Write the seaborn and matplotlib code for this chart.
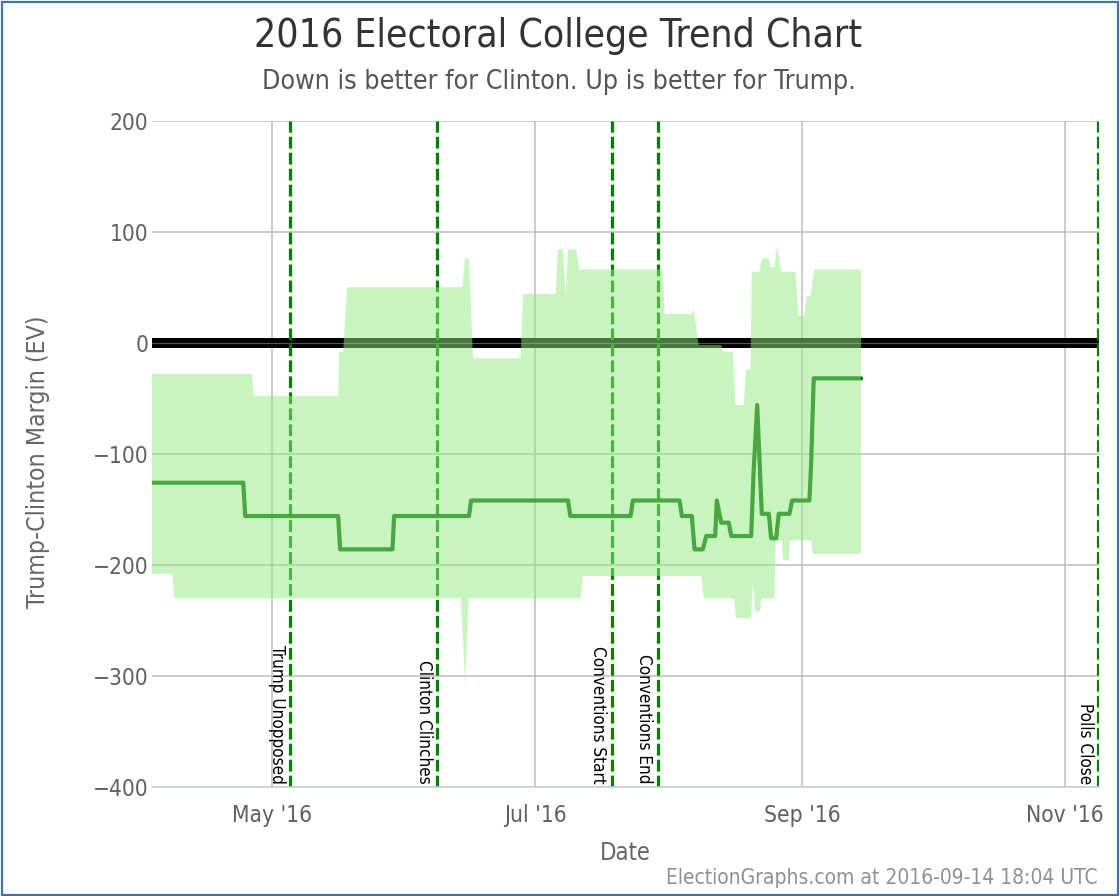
import numpy as np
import pandas as pd
import matplotlib
matplotlib.use("Agg")
import matplotlib.pyplot as plt
import matplotlib.dates as mdates
import seaborn as sns
from matplotlib import font_manager as fm
from matplotlib.patches import Rectangle

# ---------------- data ----------------
center_dates = [
    "2016-04-03 04:30", "2016-04-24 08:22", "2016-04-24 19:30", "2016-05-16 08:45",
    "2016-05-16 19:52", "2016-05-28 23:20", "2016-05-29 08:14", "2016-06-15 17:22",
    "2016-06-16 04:30", "2016-07-08 16:02", "2016-07-09 05:21", "2016-07-23 04:45",
    "2016-07-23 17:33", "2016-08-03 13:18", "2016-08-04 02:05", "2016-08-06 09:43",
    "2016-08-07 00:43", "2016-08-08 22:54", "2016-08-09 17:48", "2016-08-11 19:51",
    "2016-08-12 04:45", "2016-08-13 05:14", "2016-08-14 23:31", "2016-08-15 12:50",
    "2016-08-20 04:05", "2016-08-20 16:54", "2016-08-21 13:29", "2016-08-22 15:03",
    "2016-08-24 06:00", "2016-08-24 19:19", "2016-08-25 23:08", "2016-08-26 13:36",
    "2016-08-29 01:08", "2016-08-29 16:08", "2016-09-02 16:22", "2016-09-03 01:48",
    "2016-09-03 16:16", "2016-09-14 15:55",
]
center_values = [
    -126, -126, -156, -156,
    -186, -186, -156, -156,
    -142, -142, -156, -156,
    -142, -142, -156, -156,
    -186, -186, -174, -174,
    -142, -162, -162, -174,
    -174, -118, -56, -154,
    -154, -176, -176, -154,
    -154, -142, -142, -108,
    -32, -32,
]

upper_dates = [
    "2016-04-03 04:30", "2016-04-26 08:46", "2016-04-26 19:53", "2016-05-16 08:45",
    "2016-05-16 14:20", "2016-05-17 12:34", "2016-05-18 10:49", "2016-06-14 04:41",
    "2016-06-14 19:08", "2016-06-15 17:22", "2016-06-16 15:38", "2016-06-27 16:57",
    "2016-06-28 05:44", "2016-07-05 19:36", "2016-07-06 08:24", "2016-07-07 12:13",
    "2016-07-08 03:14", "2016-07-08 16:02", "2016-07-10 14:44", "2016-07-11 05:12",
    "2016-07-30 13:05", "2016-07-31 03:33", "2016-08-06 06:23", "2016-08-06 20:50",
    "2016-08-07 22:58", "2016-08-13 05:14", "2016-08-13 14:08", "2016-08-15 21:45",
    "2016-08-16 12:46", "2016-08-18 10:55", "2016-08-19 00:16", "2016-08-20 00:12",
    "2016-08-20 07:26", "2016-08-22 02:15", "2016-08-22 17:17", "2016-08-24 06:00",
    "2016-08-24 13:46", "2016-08-25 13:41", "2016-08-26 04:42", "2016-08-27 02:57",
    "2016-08-30 10:29", "2016-08-31 03:10", "2016-09-01 08:40", "2016-09-02 03:33",
    "2016-09-02 21:55", "2016-09-03 20:10", "2016-09-14 15:55",
]
upper_values = [
    -28, -28, -48, -48,
    -8, -8, 50, 50,
    76, 76, -14, -14,
    44, 44, 84, 84,
    44, 84, 84, 66,
    66, 26, 26, 30,
    -2, -2, -8, -8,
    -56, -56, -24, -24,
    64, 64, 76, 76,
    68, 68, 88, 64,
    64, 24, 24, 42,
    42, 66, 66,
]

lower_dates = [
    "2016-04-03 04:30", "2016-04-07 21:27", "2016-04-08 08:36", "2016-06-13 19:13",
    "2016-06-14 20:15", "2016-06-15 15:43", "2016-07-11 14:40", "2016-07-12 05:40",
    "2016-08-08 14:00", "2016-08-09 04:26", "2016-08-16 03:19", "2016-08-16 16:39",
    "2016-08-20 04:05", "2016-08-20 13:00", "2016-08-21 02:20", "2016-08-22 06:09",
    "2016-08-22 11:43", "2016-08-25 13:41", "2016-08-25 20:21", "2016-08-27 06:17",
    "2016-08-27 15:44", "2016-08-28 21:13", "2016-08-29 02:47", "2016-09-03 01:48",
    "2016-09-03 10:42", "2016-09-14 15:55",
]
lower_values = [
    -208, -208, -230, -230,
    -306, -230, -230, -210,
    -210, -230, -230, -248,
    -248, -216, -242, -242,
    -230, -230, -178, -178,
    -196, -196, -178, -178,
    -190, -190,
]

event_dates = ["2016-05-05 04:00", "2016-06-08 09:36", "2016-07-18 19:05",
               "2016-07-29 10:57", "2016-11-08 15:50"]
event_labels = ["Trump Unopposed", "Clinton Clinches", "Conventions Start",
                "Conventions End", "Polls Close"]

ytick_values = [-400, -300, -200, -100, 0, 100, 200]
xtick_dates = ["2016-05-01", "2016-07-01", "2016-09-01", "2016-11-01"]
xtick_labels = ["May '16", "Jul '16", "Sep '16", "Nov '16"]
x_range = ["2016-04-03 04:30", "2016-11-08 22:00"]

title = "2016 Electoral College Trend Chart"
subtitle = "Down is better for Clinton. Up is better for Trump."
ylabel = "Trump-Clinton Margin (EV)"
xlabel = "Date"
footer = "ElectionGraphs.com at 2016-09-14 18:04 UTC"

# ---------------- styling ----------------
sns.set_theme(style="white")
plt.rcParams['font.family'] = ['DejaVu Sans']
has_cond = any(f.name == "DejaVu Sans" and str(f.stretch) in ("condensed", "semi-condensed")
               for f in fm.fontManager.ttflist)
ST = "condensed" if has_cond else "normal"
plt.rcParams['font.stretch'] = ST

W, H = 1120, 896
fig = plt.figure(figsize=(W / 100, H / 100), dpi=100)
fig.patch.set_facecolor("white")
renderer = fig.canvas.get_renderer()


def fit_size(text, target_px, **kw):
    t = fig.text(0, 0, text, fontsize=20, fontstretch=ST, **kw)
    w = t.get_window_extent(renderer).width
    t.remove()
    return 20 * target_px / w


ax_left, ax_right, ax_top, ax_bot = 152, 1099.3, 120.7, 787
ax = fig.add_axes([ax_left / W, 1 - ax_bot / H, (ax_right - ax_left) / W, (ax_bot - ax_top) / H])
ax.set_facecolor("white")

to_num = lambda d: mdates.date2num(pd.to_datetime(d))

# grid
ax.set_axisbelow(True)
ax.grid(True, color="#bdbdbd", lw=1.1, zorder=0.5)

# zero line
ax.axhline(0, color="black", lw=7.2, zorder=1)
ax.axhline(0, color="#505050", lw=0.9, zorder=1.1)

# event lines
for d in event_dates:
    ax.axvline(to_num(d), color="#008000", lw=2.3, ls=(0, (3.7, 1.3)), zorder=2)

# median line
cdf = pd.DataFrame({"date": pd.to_datetime(center_dates), "margin": center_values})
sns.lineplot(data=cdf, x="date", y="margin", ax=ax, color="#006400", lw=3.0,
             estimator=None, zorder=2.5)

# uncertainty band
ux = to_num(upper_dates)
lx = to_num(lower_dates)
poly_x = np.concatenate([ux, lx[::-1]])
poly_y = np.concatenate([upper_values, lower_values[::-1]])
ax.fill(poly_x, poly_y, color=(145 / 255, 235 / 255, 129 / 255), alpha=0.5, lw=0, zorder=3)

# axes
ax.set_xlim(to_num(x_range[0]), to_num(x_range[1]))
ax.set_ylim(-400, 200)
ax.set_yticks(ytick_values)
ax.set_xticks(to_num(xtick_dates))
ax.set_xticklabels(xtick_labels)
ax.set_xlabel("")
ax.set_ylabel("")
for s in ["left", "top", "right"]:
    ax.spines[s].set_visible(False)
ax.spines["bottom"].set_color("#c0d0e0")
ax.spines["bottom"].set_linewidth(1.2)

tick_size = fit_size("Sep '16", 76)
ax.tick_params(axis="x", length=0, pad=12.5, labelsize=tick_size, labelcolor="#606060")
ax.tick_params(axis="y", length=0, pad=2.5, labelsize=tick_size, labelcolor="#606060")
for lab in ax.get_xticklabels() + ax.get_yticklabels():
    lab.set_fontstretch(ST)

# event labels
ev_size = fit_size("Conventions Start", 137)
for d, lab in zip(event_dates, event_labels):
    ax.annotate(lab, xy=(to_num(d), 0), xycoords=("data", "axes fraction"),
                xytext=(-3.0, 2.2), textcoords="offset points", rotation=-90,
                ha="right", va="bottom", fontsize=ev_size, fontstretch=ST,
                color="black", zorder=4)

# titles
fig.text(558 / W, 1 - 36 / H, title, ha="center", va="center", color="#333333",
         fontsize=fit_size(title, 607), fontstretch=ST)
fig.text(559 / W, 1 - 82 / H, subtitle, ha="center", va="center", color="#555555",
         fontsize=fit_size(subtitle, 592), fontstretch=ST)
fig.text(38 / W, 1 - 462 / H, ylabel, ha="center", va="center", rotation=90, color="#666666",
         fontsize=fit_size(ylabel, 292), fontstretch=ST)
fig.text(625 / W, 1 - 853 / H, xlabel, ha="center", va="center", color="#666666",
         fontsize=fit_size(xlabel, 51), fontstretch=ST)
fig.text(1098 / W, 1 - 878 / H, footer, ha="right", va="center", color="#909090",
         fontsize=fit_size(footer, 430), fontstretch=ST)

# outer border
fig.patches.append(Rectangle((1.5 / W, 1.5 / H), 1 - 3.5 / W, 1 - 3.5 / H, transform=fig.transFigure,
                             fill=False, edgecolor="#4572a7", lw=1.6, zorder=10))

fig.savefig("out.png", dpi=100, facecolor="white")
